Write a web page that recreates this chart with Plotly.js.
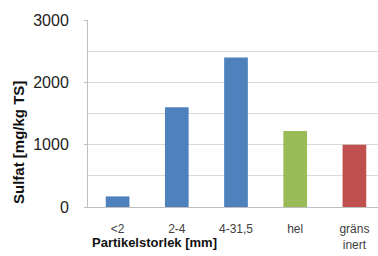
<!DOCTYPE html>
<html><head><meta charset="utf-8">
<script src="https://cdn.plot.ly/plotly-3.0.1.min.js"></script>
<style>html,body{margin:0;padding:0;overflow:hidden;background:#fff}</style>
</head><body><div id="chart"></div>
<script>
const categories = ["<2", "2-4", "4-31,5", "hel", "gräns<br>inert"];
const sulfat = [170, 1600, 2400, 1220, 1000];
const barColors = ["#4F81BD", "#4F81BD", "#4F81BD", "#9BBB59", "#C0504D"];
const yTicks = [0, 1000, 2000, 3000];

Plotly.newPlot("chart", [{
  type: "bar",
  x: categories,
  y: sulfat,
  marker: {color: barColors},
  hoverinfo: "none"
}], {
  width: 384, height: 256,
  margin: {l: 88, r: 0, t: 20, b: 49},
  paper_bgcolor: "#fff", plot_bgcolor: "#fff",
  bargap: 0.6,
  showlegend: false,
  font: {family: "Liberation Sans, Arial, sans-serif", color: "#333"},
  xaxis: {
    tickfont: {size: 12, color: "#404040"},
    showline: true, linecolor: "#BFBFBF", linewidth: 1,
    ticks: "", showgrid: false, fixedrange: true,
    ticklabelstandoff: 11
  },
  yaxis: {
    range: [0, 3000],
    tickvals: yTicks,
    ticktext: yTicks.map(String),
    tickfont: {size: 16, color: "#222"},
    showgrid: true, gridcolor: "#D9D9D9",
    minor: {dtick: 500, showgrid: true, gridcolor: "#D9D9D9"},
    showline: true, linecolor: "#BFBFBF", linewidth: 1,
    ticks: "outside", ticklen: 3, tickcolor: "#BFBFBF",
    ticklabelstandoff: 12,
    zeroline: false, fixedrange: true
  },
  annotations: [
    {text: "<b>Partikelstorlek [mm]</b>", xref: "paper", yref: "paper",
     x: (90 - 88) / 296, y: -35 / 187, xanchor: "left", yanchor: "middle",
     showarrow: false, font: {size: 13, color: "#111"}},
    {text: "<b>Sulfat [mg/kg TS]</b>", xref: "paper", yref: "paper",
     x: -70 / 296, y: (207 - 143) / 187, xanchor: "center", yanchor: "middle",
     textangle: -90, showarrow: false, font: {size: 15, color: "#111"}}
  ]
}, {displayModeBar: false, staticPlot: true});
</script></body></html>
